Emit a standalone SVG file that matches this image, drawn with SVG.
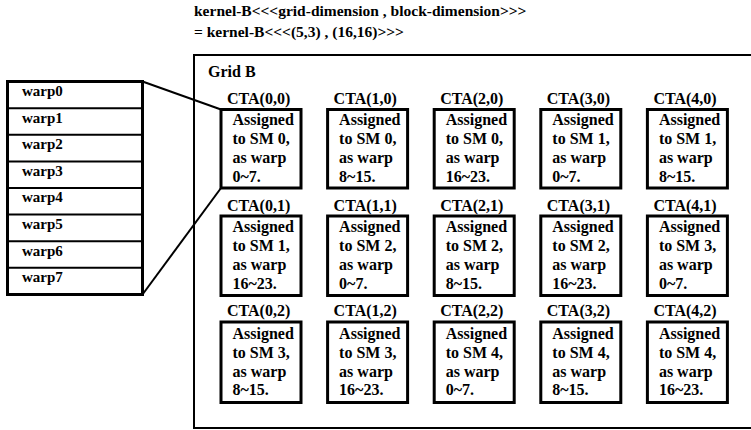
<svg xmlns="http://www.w3.org/2000/svg" width="751" height="430" viewBox="0 0 751 430">
  <style>
    text { font-family: "Liberation Serif", "Times New Roman", serif; font-weight: bold; fill: #000; }
    .title { font-size: 15.5px; }
    .label { font-size: 16px; }
    .body { font-size: 16px; }
    .warp { font-size: 15px; }
    .cta { fill: #fff; stroke: #000; stroke-width: 3; }
    .frame { fill: #fff; stroke: #000; stroke-width: 2; }
    .sep { stroke: #000; stroke-width: 2; }
    .link { stroke: #000; stroke-width: 2; fill: none; }
  </style>
  <rect width="751" height="430" fill="#fff"/>

  <!-- launch configuration -->
  <g id="title">
    <text class="title" x="194" y="16">kernel-B&lt;&lt;&lt;grid-dimension , block-dimension&gt;&gt;&gt;</text>
    <text class="title" x="194" y="37">= kernel-B&lt;&lt;&lt;(5,3) , (16,16)&gt;&gt;&gt;</text>
  </g>

  <!-- grid container -->
  <g id="grid-b">
    <rect class="frame" x="194" y="55" width="570" height="373"/>
    <text class="label" x="208" y="77">Grid B</text>
  </g>

  <!-- warps of CTA(0,0) -->
  <g id="warps">
    <rect class="frame" x="7.5" y="81.5" width="135" height="213" style="stroke-width:3"/>
    <line class="sep" x1="7.5" y1="108.2" x2="142.5" y2="108.2"/>
    <line class="sep" x1="7.5" y1="134.8" x2="142.5" y2="134.8"/>
    <line class="sep" x1="7.5" y1="161.4" x2="142.5" y2="161.4"/>
    <line class="sep" x1="7.5" y1="188" x2="142.5" y2="188"/>
    <line class="sep" x1="7.5" y1="214.6" x2="142.5" y2="214.6"/>
    <line class="sep" x1="7.5" y1="241.2" x2="142.5" y2="241.2"/>
    <line class="sep" x1="7.5" y1="267.8" x2="142.5" y2="267.8"/>
    <text class="warp" x="22" y="96">warp0</text>
    <text class="warp" x="22" y="122.6">warp1</text>
    <text class="warp" x="22" y="149.2">warp2</text>
    <text class="warp" x="22" y="175.8">warp3</text>
    <text class="warp" x="22" y="202.4">warp4</text>
    <text class="warp" x="22" y="229">warp5</text>
    <text class="warp" x="22" y="255.6">warp6</text>
    <text class="warp" x="22" y="282.2">warp7</text>
  </g>

  <!-- zoom lines from CTA(0,0) to its warps -->
  <g id="connectors">
    <line class="link" x1="142.5" y1="81.5" x2="221" y2="109.5"/>
    <line class="link" x1="142.5" y1="294.5" x2="221" y2="188"/>
  </g>

  <!-- row 0 -->
  <g id="cta-0-0">
    <text class="label" x="227" y="103.5">CTA(0,0)</text>
    <rect class="cta" x="221" y="109.5" width="80" height="78.5"/>
    <text class="body" x="232.5" y="125">Assigned</text>
    <text class="body" x="232.5" y="144">to SM 0,</text>
    <text class="body" x="232.5" y="163">as warp</text>
    <text class="body" x="232.5" y="182">0~7.</text>
  </g>
  <g id="cta-1-0">
    <text class="label" x="333.6" y="103.5">CTA(1,0)</text>
    <rect class="cta" x="327.6" y="109.5" width="80" height="78.5"/>
    <text class="body" x="339.1" y="125">Assigned</text>
    <text class="body" x="339.1" y="144">to SM 0,</text>
    <text class="body" x="339.1" y="163">as warp</text>
    <text class="body" x="339.1" y="182">8~15.</text>
  </g>
  <g id="cta-2-0">
    <text class="label" x="440.2" y="103.5">CTA(2,0)</text>
    <rect class="cta" x="434.2" y="109.5" width="80" height="78.5"/>
    <text class="body" x="445.7" y="125">Assigned</text>
    <text class="body" x="445.7" y="144">to SM 0,</text>
    <text class="body" x="445.7" y="163">as warp</text>
    <text class="body" x="445.7" y="182">16~23.</text>
  </g>
  <g id="cta-3-0">
    <text class="label" x="546.8" y="103.5">CTA(3,0)</text>
    <rect class="cta" x="540.8" y="109.5" width="80" height="78.5"/>
    <text class="body" x="552.3" y="125">Assigned</text>
    <text class="body" x="552.3" y="144">to SM 1,</text>
    <text class="body" x="552.3" y="163">as warp</text>
    <text class="body" x="552.3" y="182">0~7.</text>
  </g>
  <g id="cta-4-0">
    <text class="label" x="653.4" y="103.5">CTA(4,0)</text>
    <rect class="cta" x="647.4" y="109.5" width="80" height="78.5"/>
    <text class="body" x="658.9" y="125">Assigned</text>
    <text class="body" x="658.9" y="144">to SM 1,</text>
    <text class="body" x="658.9" y="163">as warp</text>
    <text class="body" x="658.9" y="182">8~15.</text>
  </g>

  <!-- row 1 -->
  <g id="cta-0-1">
    <text class="label" x="227" y="210.5">CTA(0,1)</text>
    <rect class="cta" x="221" y="216" width="80" height="79.5"/>
    <text class="body" x="232.5" y="232">Assigned</text>
    <text class="body" x="232.5" y="251">to SM 1,</text>
    <text class="body" x="232.5" y="270">as warp</text>
    <text class="body" x="232.5" y="289">16~23.</text>
  </g>
  <g id="cta-1-1">
    <text class="label" x="333.6" y="210.5">CTA(1,1)</text>
    <rect class="cta" x="327.6" y="216" width="80" height="79.5"/>
    <text class="body" x="339.1" y="232">Assigned</text>
    <text class="body" x="339.1" y="251">to SM 2,</text>
    <text class="body" x="339.1" y="270">as warp</text>
    <text class="body" x="339.1" y="289">0~7.</text>
  </g>
  <g id="cta-2-1">
    <text class="label" x="440.2" y="210.5">CTA(2,1)</text>
    <rect class="cta" x="434.2" y="216" width="80" height="79.5"/>
    <text class="body" x="445.7" y="232">Assigned</text>
    <text class="body" x="445.7" y="251">to SM 2,</text>
    <text class="body" x="445.7" y="270">as warp</text>
    <text class="body" x="445.7" y="289">8~15.</text>
  </g>
  <g id="cta-3-1">
    <text class="label" x="546.8" y="210.5">CTA(3,1)</text>
    <rect class="cta" x="540.8" y="216" width="80" height="79.5"/>
    <text class="body" x="552.3" y="232">Assigned</text>
    <text class="body" x="552.3" y="251">to SM 2,</text>
    <text class="body" x="552.3" y="270">as warp</text>
    <text class="body" x="552.3" y="289">16~23.</text>
  </g>
  <g id="cta-4-1">
    <text class="label" x="653.4" y="210.5">CTA(4,1)</text>
    <rect class="cta" x="647.4" y="216" width="80" height="79.5"/>
    <text class="body" x="658.9" y="232">Assigned</text>
    <text class="body" x="658.9" y="251">to SM 3,</text>
    <text class="body" x="658.9" y="270">as warp</text>
    <text class="body" x="658.9" y="289">0~7.</text>
  </g>

  <!-- row 2 -->
  <g id="cta-0-2">
    <text class="label" x="227" y="316">CTA(0,2)</text>
    <rect class="cta" x="221" y="322" width="80" height="80.5"/>
    <text class="body" x="232.5" y="338.5">Assigned</text>
    <text class="body" x="232.5" y="357.5">to SM 3,</text>
    <text class="body" x="232.5" y="376.5">as warp</text>
    <text class="body" x="232.5" y="395">8~15.</text>
  </g>
  <g id="cta-1-2">
    <text class="label" x="333.6" y="316">CTA(1,2)</text>
    <rect class="cta" x="327.6" y="322" width="80" height="80.5"/>
    <text class="body" x="339.1" y="338.5">Assigned</text>
    <text class="body" x="339.1" y="357.5">to SM 3,</text>
    <text class="body" x="339.1" y="376.5">as warp</text>
    <text class="body" x="339.1" y="395">16~23.</text>
  </g>
  <g id="cta-2-2">
    <text class="label" x="440.2" y="316">CTA(2,2)</text>
    <rect class="cta" x="434.2" y="322" width="80" height="80.5"/>
    <text class="body" x="445.7" y="338.5">Assigned</text>
    <text class="body" x="445.7" y="357.5">to SM 4,</text>
    <text class="body" x="445.7" y="376.5">as warp</text>
    <text class="body" x="445.7" y="395">0~7.</text>
  </g>
  <g id="cta-3-2">
    <text class="label" x="546.8" y="316">CTA(3,2)</text>
    <rect class="cta" x="540.8" y="322" width="80" height="80.5"/>
    <text class="body" x="552.3" y="338.5">Assigned</text>
    <text class="body" x="552.3" y="357.5">to SM 4,</text>
    <text class="body" x="552.3" y="376.5">as warp</text>
    <text class="body" x="552.3" y="395">8~15.</text>
  </g>
  <g id="cta-4-2">
    <text class="label" x="653.4" y="316">CTA(4,2)</text>
    <rect class="cta" x="647.4" y="322" width="80" height="80.5"/>
    <text class="body" x="658.9" y="338.5">Assigned</text>
    <text class="body" x="658.9" y="357.5">to SM 4,</text>
    <text class="body" x="658.9" y="376.5">as warp</text>
    <text class="body" x="658.9" y="395">16~23.</text>
  </g>
</svg>
